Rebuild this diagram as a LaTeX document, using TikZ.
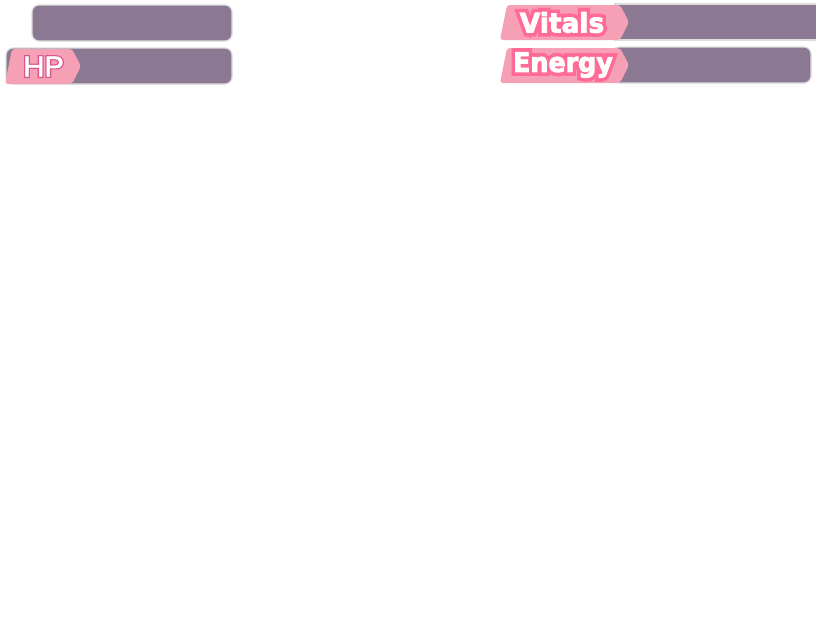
\documentclass[tikz,border=0pt]{standalone}
\usepackage{fontspec}
\newfontfamily\boldfont{DejaVu Sans Bold}[FakeBold=3]
\newfontfamily\boldoutline{DejaVu Sans Bold}[FakeBold=30]
\newfontfamily\thinfont{TeX Gyre Heros}[FakeBold=2]
\newfontfamily\thinoutline{TeX Gyre Heros}[FakeBold=11]
\definecolor{barpurple}{HTML}{8B7893}
\definecolor{barborder}{HTML}{DCDCDC}
\definecolor{tagpink}{HTML}{F5A0B5}
\definecolor{outlinepink}{HTML}{FF6B96}
\definecolor{hppink}{HTML}{D9558C}
\tikzset{
  barbox/.style={fill=barpurple, draw=barborder, line width=1.2pt, rounded corners=7pt},
  tagshape/.style={fill=tagpink, rounded corners=3pt},
  labeltext/.style={inner sep=0pt},
}
\begin{document}
\begin{tikzpicture}[x=1pt,y=-1pt]
\useasboundingbox[fill=white] (0,0) rectangle (816,624);
% left top bar
\draw[barbox] (32,5) rectangle (232,41);
% HP bar
\draw[barbox] (6,48) rectangle (232,84);
\fill[tagshape] (5,84) -- (12,49) -- (72,49) -- (81,66) -- (72,84) -- cycle;
\node[labeltext, text=hppink, font=\thinoutline\fontsize{27}{27}\selectfont] (hpo) at (43.5,66.5) {\scalebox{1.08}[1]{HP}};
\node[labeltext, text=white, font=\thinfont\fontsize{27}{27}\selectfont] (hp) at (43.5,66.5) {\scalebox{1.08}[1]{HP}};
% Vitals bar
\draw[barbox, rounded corners=0pt] (615,4) rectangle (820,40);
\fill[tagshape] (500,40) -- (507,5) -- (620,5) -- (629,22) -- (620,40) -- cycle;
\node[labeltext, text=outlinepink, font=\boldoutline\fontsize{27}{27}\selectfont] (vo) at (562,22.5) {\scalebox{0.98}[1]{Vitals}};
\node[labeltext, text=white, font=\boldfont\fontsize{27}{27}\selectfont] (v) at (562,22.5) {\scalebox{0.98}[1]{Vitals}};
% Energy bar
\draw[barbox] (612,47) rectangle (811,83);
\fill[tagshape] (500,83) -- (507,48) -- (620,48) -- (629,65) -- (620,83) -- cycle;
\node[labeltext, text=outlinepink, font=\boldoutline\fontsize{27}{27}\selectfont] (eo) at (563,65) {\scalebox{0.94}[1]{Energy}};
\node[labeltext, text=white, font=\boldfont\fontsize{27}{27}\selectfont] (e) at (563,65) {\scalebox{0.94}[1]{Energy}};
\end{tikzpicture}
\end{document}
